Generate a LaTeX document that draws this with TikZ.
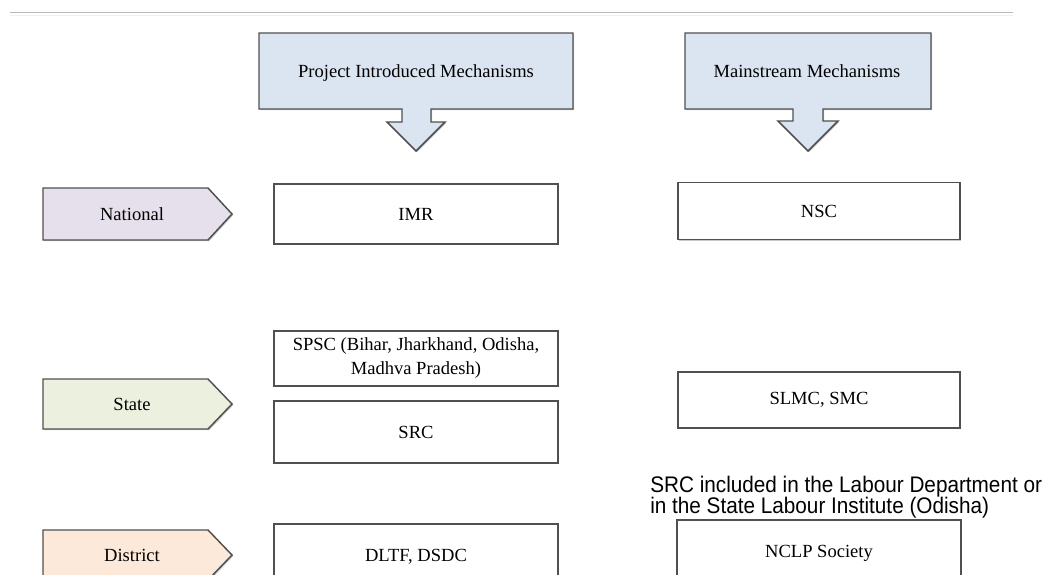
\documentclass[tikz,border=0pt]{standalone}
\usepackage{fontspec}
\usetikzlibrary{shadows}
\setmainfont{Liberation Serif}
\newfontfamily\annofont[FakeStretch=0.92]{Liberation Sans}
\definecolor{calloutfill}{RGB}{219,229,241}
\definecolor{natfill}{RGB}{229,224,236}
\definecolor{statefill}{RGB}{235,241,222}
\definecolor{distfill}{RGB}{253,233,217}
\definecolor{edge}{RGB}{80,80,80}
\begin{document}
\begin{tikzpicture}[x=0.75pt,y=-0.75pt,
  softshadow/.style={drop shadow={shadow xshift=0.9pt, shadow yshift=-0.9pt, opacity=0.22, fill=black}},
  box/.style={draw=edge, line width=1.1pt, fill=white, inner sep=0pt, align=center, softshadow,
              font=\fontsize{13.9}{18}\selectfont},
  outline/.style={draw=edge, line width=1.1pt, line join=miter, softshadow},
  lbl/.style={inner sep=0pt, font=\fontsize{13.9}{18}\selectfont},
  anno/.style={inner sep=0pt, anchor=base west, font=\annofont\fontsize{16.9}{16.5}\selectfont}]
\useasboundingbox (0,0) rectangle (1054,575);
% top rule
\draw[gray!55, line width=1.2pt] (10,12.5) -- (1013,12.5);
\draw[gray!12, line width=0.8pt] (10,15.5) -- (1013,15.5);
% callouts
\draw[outline, fill=calloutfill] (259,33) -- (573,33) -- (573,109) -- (431,109) -- (431,122) -- (445,122)
  -- (416,151) -- (387,122) -- (402,122) -- (402,109) -- (259,109) -- cycle;
\node[lbl, anchor=base] (pim) at (416,77) {Project Introduced Mechanisms};
\draw[outline, fill=calloutfill] (685,33) -- (931,33) -- (931,109) -- (823,109) -- (823,121) -- (838,121)
  -- (808,151) -- (778,121) -- (793,121) -- (793,109) -- (685,109) -- cycle;
\node[lbl, anchor=base] (mm) at (807,77) {Mainstream Mechanisms};
% level pentagons
\draw[outline, fill=natfill] (43,188) -- (208,188) -- (232,214) -- (208,240) -- (43,240) -- cycle;
\node[lbl] (national) at (132,214) {National};
\draw[outline, fill=statefill] (43,379) -- (208,379) -- (232,404) -- (208,429) -- (43,429) -- cycle;
\node[lbl] (state) at (132,404) {State};
% boxes
\node[box, minimum width=213pt, minimum height=45pt] (imr) at (416,214) {IMR};
\node[box, minimum width=211.5pt, minimum height=42.75pt] (nsc) at (819,211) {NSC};
\node[box, minimum width=213pt, minimum height=41.25pt] (spsc) at (416,358.5) {SPSC (Bihar, Jharkhand, Odisha,\\Madhva Pradesh)};
\node[box, minimum width=213pt, minimum height=46.5pt] (src) at (416,432) {SRC};
\node[box, minimum width=211.5pt, minimum height=42pt] (slmc) at (819,400) {SLMC, SMC};
% annotation
\node[anno] (anno1) at (650,492) {SRC included in the Labour Department or};
\node[anno] (anno2) at (650,513) {in the State Labour Institute (Odisha)};
% district row (cut at the bottom)
\begin{scope}
\clip (0,0) rectangle (1054,575);
\draw[outline, fill=distfill] (43,530) -- (208,530) -- (232,555) -- (208,580) -- (43,580) -- cycle;
\node[lbl] (district) at (132,555) {District};
\node[box, minimum width=213pt, minimum height=49.5pt] (dltf) at (416,557) {DLTF, DSDC};
\node[box, minimum width=213pt, minimum height=49.5pt] (nclp) at (819,553) {NCLP Society};
\end{scope}
\end{tikzpicture}
\end{document}
